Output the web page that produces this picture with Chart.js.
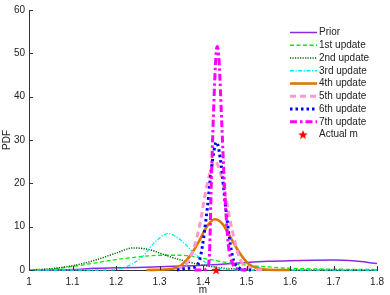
<!DOCTYPE html>
<html>
<head>
<meta charset="utf-8">
<script src="https://cdn.jsdelivr.net/npm/chart.js@4.4.1/dist/chart.umd.min.js"></script>
<style>
  html, body { margin: 0; padding: 0; background: #fff; }
  #wrap { width: 390px; height: 295px; }
</style>
</head>
<body>
<div id="wrap"><canvas id="myChart" width="390" height="295"></canvas></div>
<script>
// values (m on the x axis, PDF on the y axis)
const mPrior   = [1.0, 1.1, 1.15, 1.2, 1.25, 1.3, 1.35, 1.4, 1.45, 1.5, 1.55, 1.6, 1.65, 1.7, 1.75, 1.8];
const pdfPrior = [0,   0.1, 0.4,  0.5, 0.6,  0.75, 0.9, 1.1, 1.4,  1.75, 2.0, 2.15, 2.25, 2.3, 2.05, 1.5];

const m1   = [1.0, 1.05, 1.1, 1.15, 1.2, 1.25, 1.3, 1.35, 1.4, 1.45, 1.5, 1.55, 1.6, 1.7, 1.8];
const pdf1 = [0,   0.2,  0.8, 1.6,  2.4, 3.0,  3.4, 3.4,  2.7, 1.8,  1.1, 0.7,  0.4, 0.2, 0.1];

const m2   = [1.0, 1.05, 1.1, 1.15, 1.2, 1.24, 1.28, 1.32, 1.36, 1.4, 1.45, 1.5, 1.6, 1.8];
const pdf2 = [0,   0.3,  1.0, 2.2,  3.9, 5.1,  4.6,  3.2,  2.0,  1.1, 0.4,  0.1, 0,   0];

const m3   = [1.0, 1.18, 1.22, 1.26, 1.29, 1.32, 1.35, 1.38, 1.41, 1.44, 1.48, 1.8];
const pdf3 = [0,   0,    0.6,  3.0,  6.5,  8.4,  6.8,  3.8,  1.5,  0.4,  0,    0];

const m4   = [1.27, 1.33, 1.35, 1.37, 1.39, 1.41, 1.427, 1.445, 1.465, 1.485, 1.505, 1.525, 1.55, 1.6];
const pdf4 = [0,    0.3,  1.1,  3.2,  6.5,  10.2, 11.7,  10.6,  7.2,   3.8,   1.4,   0.4,   0.05, 0];

const m5   = [1.34, 1.37, 1.39, 1.41, 1.428, 1.445, 1.465, 1.485, 1.51, 1.54];
const pdf5 = [0,    2.7,  9.2,  20,   25,    20.5,  10.1,  2.5,   0.4,  0];

const m6   = [1.34, 1.365, 1.38, 1.395, 1.41, 1.42, 1.431, 1.442, 1.452, 1.467, 1.482, 1.51];
const pdf6 = [0,    0.4,   0.6,  3.5,   14.4, 24,   29.5,  24,    14.4,  3.5,   0.5,   0];

const m7   = [1.38, 1.40, 1.41, 1.415, 1.419, 1.424, 1.43, 1.433, 1.437, 1.443, 1.45, 1.458, 1.468, 1.48, 1.5];
const pdf7 = [0,    0,    0.5,  4,     20,    36,    50,   51.6,  48,    34,    18,   6,     1.5,   0.2,  0];

const actualM = [1.43];
const actualPdf = [0];

const xTicks = [1, 1.1, 1.2, 1.3, 1.4, 1.5, 1.6, 1.7, 1.8];
const yTicks = [0, 10, 20, 30, 40, 50, 60];

const FONT = 'Liberation Sans, Helvetica, Arial, sans-serif';

function pts(xs, ys) {
    return xs.map((x, i) => ({ x: x, y: ys[i] }));
}

// filled 5 point star for "Actual m"
function makeStar(size, color) {
    const c = document.createElement('canvas');
    c.width = size; c.height = size;
    const g = c.getContext('2d');
    const cx = size / 2, cy = size / 2 + 0.5, ro = size / 2, ri = ro * 0.42;
    g.beginPath();
    for (let i = 0; i < 10; i++) {
        const r = i % 2 === 0 ? ro : ri;
        const a = -Math.PI / 2 + i * Math.PI / 5;
        g.lineTo(cx + r * Math.cos(a), cy + r * Math.sin(a));
    }
    g.closePath();
    g.fillStyle = color;
    g.fill();
    return c;
}
const star = makeStar(10, '#ff0000');

function line(label, xs, ys, color, width, dash, order) {
    return {
        label: label,
        data: pts(xs, ys),
        borderColor: color,
        backgroundColor: color,
        borderWidth: width,
        borderDash: dash,
        pointRadius: 0,
        fill: false,
        cubicInterpolationMode: 'monotone',
        clip: 3,
        order: order
    };
}

const datasets = [
    line('Prior', mPrior, pdfPrior, '#8a2be2', 1.5, [], 9),
    line('1st update', m1, pdf1, '#00ee00', 1.3, [4, 2.5], 8),
    line('2nd update', m2, pdf2, '#006400', 1.5, [1.2, 1.3], 7),
    line('3rd update', m3, pdf3, '#00eeee', 1.3, [4, 1.5, 1.2, 1.5], 6),
    line('4th update', m4, pdf4, '#dd7700', 2.6, [], 5),
    line('5th update', m5, pdf5, '#ff99cc', 3, [6, 4], 4),
    line('6th update', m6, pdf6, '#0000ff', 3, [2.5, 3], 3),
    line('7th update', m7, pdf7, '#ff00ff', 3, [7, 3, 2.5, 3], 2),
    {
        label: 'Actual m',
        data: pts(actualM, actualPdf),
        showLine: false,
        pointStyle: star,
        pointRadius: 5,
        borderColor: '#ff0000',
        backgroundColor: '#ff0000',
        clip: false,
        order: 1
    }
];

// inward tick marks, matlab style
const innerTicks = {
    id: 'innerTicks',
    afterDraw(chart) {
        const ctx = chart.ctx;
        const xs = chart.scales.x, ys = chart.scales.y;
        const a = chart.chartArea;
        ctx.save();
        ctx.strokeStyle = '#333';
        ctx.lineWidth = 1;
        ctx.beginPath();
        xTicks.forEach(v => {
            const px = Math.round(xs.getPixelForValue(v)) + 0.5;
            ctx.moveTo(px, a.bottom);
            ctx.lineTo(px, a.bottom - 4);
        });
        yTicks.forEach(v => {
            const py = Math.round(ys.getPixelForValue(v)) + 0.5;
            ctx.moveTo(a.left, py);
            ctx.lineTo(a.left + 4, py);
        });
        ctx.stroke();
        ctx.restore();
    }
};

// legend drawn by hand, top right inside the axes
const sideLegend = {
    id: 'sideLegend',
    afterDraw(chart) {
        const ctx = chart.ctx;
        const x0 = 290, x1 = 317, tx = 319;
        let y = 32.5;
        const step = 12.75;
        ctx.save();
        ctx.font = '10px ' + FONT;
        ctx.textBaseline = 'middle';
        ctx.fillStyle = '#222';
        chart.data.datasets.forEach(ds => {
            if (ds.showLine === false) {
                ctx.drawImage(star, 303 - 5, y - 5);
            } else {
                ctx.save();
                ctx.strokeStyle = ds.borderColor;
                ctx.lineWidth = ds.borderWidth;
                ctx.setLineDash(ds.borderDash);
                ctx.beginPath();
                ctx.moveTo(x0, y);
                ctx.lineTo(x1, y);
                ctx.stroke();
                ctx.restore();
            }
            ctx.fillText(ds.label, tx, y);
            y += step;
        });
        ctx.restore();
    }
};

const ctx = document.getElementById('myChart').getContext('2d');
const myChart = new Chart(ctx, {
    type: 'line',
    data: { datasets: datasets },
    plugins: [innerTicks, sideLegend],
    options: {
        responsive: false,
        animation: false,
        events: [],
        layout: { padding: { top: 6, right: 8, left: 0, bottom: 0 } },
        plugins: {
            legend: { display: false },
            tooltip: { enabled: false }
        },
        scales: {
            x: {
                type: 'linear',
                min: 1,
                max: 1.8,
                afterFit: s => { s.height = 25; },
                afterBuildTicks: s => { s.ticks = xTicks.map(v => ({ value: v })); },
                ticks: {
                    padding: 6,
                    color: '#222',
                    font: { family: FONT, size: 10 },
                    maxRotation: 0,
                    callback: v => String(Math.round(v * 10) / 10)
                },
                grid: { display: true, drawOnChartArea: false, drawTicks: false },
                border: { display: true, color: '#333', width: 1 },
                title: {
                    display: true,
                    text: 'm',
                    color: '#222',
                    font: { family: FONT, size: 10 },
                    padding: { top: 0, bottom: -1 }
                }
            },
            y: {
                min: 0,
                max: 60,
                afterFit: s => { s.width = 29; },
                afterBuildTicks: s => { s.ticks = yTicks.map(v => ({ value: v })); },
                ticks: {
                    padding: 4,
                    color: '#222',
                    font: { family: FONT, size: 10 }
                },
                grid: { display: true, drawOnChartArea: false, drawTicks: false },
                border: { display: true, color: '#333', width: 1 },
                title: {
                    display: true,
                    text: 'PDF',
                    color: '#222',
                    font: { family: FONT, size: 10 },
                    padding: { top: 1, bottom: 0 }
                }
            }
        }
    }
});
</script>
</body>
</html>
